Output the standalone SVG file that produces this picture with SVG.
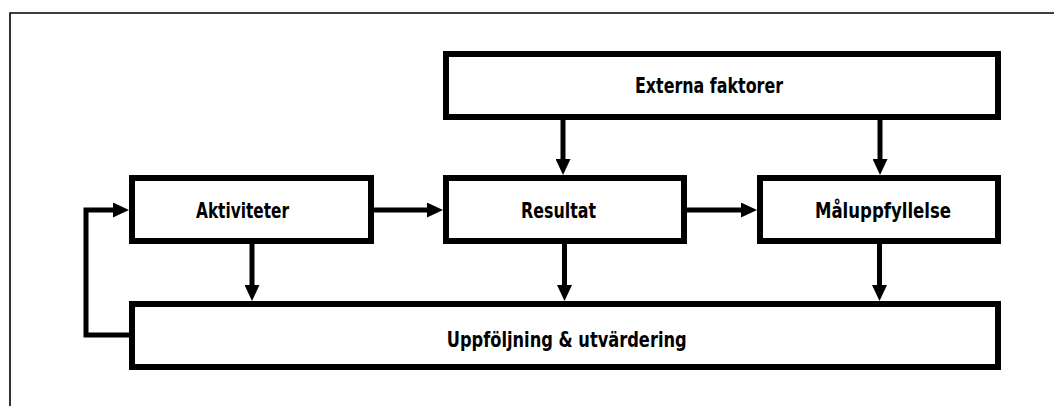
<svg xmlns="http://www.w3.org/2000/svg" width="1054" height="406" viewBox="0 0 1054 406">
  <defs>
    <marker id="arrow" markerUnits="userSpaceOnUse" markerWidth="17" markerHeight="15" refX="1" refY="7.5" orient="auto" viewBox="0 0 17 15">
      <path d="M0,0 L16,7.5 L0,15 Z" fill="#000"/>
    </marker>
  </defs>
  <style>
    .box { fill: #fff; stroke: #000; stroke-width: 6; }
    .lbl { font-family: "Liberation Sans Narrow", "DejaVu Sans Condensed", "Liberation Sans", sans-serif; font-weight: bold; font-size: 22px; fill: #000; }
    .conn { fill: none; stroke: #000; stroke-width: 5; marker-end: url(#arrow); }
    .frame { fill: none; stroke: #000; stroke-width: 1.6; }
  </style>
  <rect width="1054" height="406" fill="#fff"/>
  <path class="frame" d="M10,406 V13 H1054"/>

  <g id="connectors">
    <path class="conn" d="M563,120 V160"/>
    <path class="conn" d="M880,120 V160"/>
    <path class="conn" d="M374,210 H428"/>
    <path class="conn" d="M687,210 H742"/>
    <path class="conn" d="M252,244 V286"/>
    <path class="conn" d="M564.5,244 V286"/>
    <path class="conn" d="M879.5,244 V286"/>
    <path class="conn" d="M129,335 H86 V210 H114"/>
  </g>

  <g id="externa">
    <rect class="box" x="446" y="54" width="552" height="63"/>
    <text class="lbl" x="635" y="93.3" textLength="148" lengthAdjust="spacingAndGlyphs">Externa faktorer</text>
  </g>
  <g id="aktiviteter">
    <rect class="box" x="132" y="178" width="239" height="63"/>
    <text class="lbl" x="196" y="218" textLength="93" lengthAdjust="spacingAndGlyphs">Aktiviteter</text>
  </g>
  <g id="resultat">
    <rect class="box" x="446" y="178" width="238" height="63"/>
    <text class="lbl" x="521" y="218" textLength="75" lengthAdjust="spacingAndGlyphs">Resultat</text>
  </g>
  <g id="maluppfyllelse">
    <rect class="box" x="760" y="178" width="238" height="63"/>
    <text class="lbl" x="815" y="217.5" textLength="136" lengthAdjust="spacingAndGlyphs">Måluppfyllelse</text>
  </g>
  <g id="uppfoljning">
    <rect class="box" x="132" y="304" width="866" height="63"/>
    <text class="lbl" x="446.7" y="347.3" textLength="240" lengthAdjust="spacingAndGlyphs">Uppföljning &amp; utvärdering</text>
  </g>
</svg>
